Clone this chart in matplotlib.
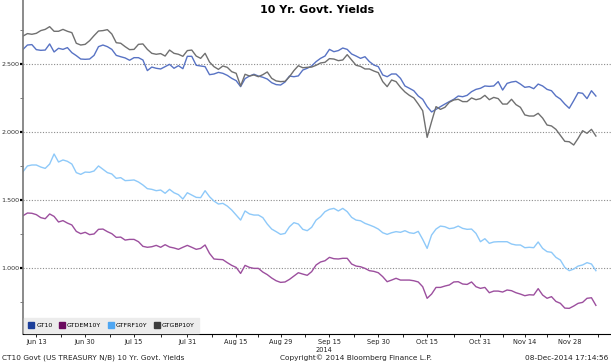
import matplotlib
matplotlib.use("Agg")
import matplotlib.pyplot as plt
from matplotlib.lines import Line2D
import numpy as np
import pandas as pd

# business days shown on the chart
dates = pd.bdate_range("2014-06-10", "2014-12-08")

gt10 = [2.605, 2.637, 2.640, 2.603, 2.598, 2.600, 2.645, 2.586, 2.613, 2.605,
        2.618, 2.581, 2.559, 2.534, 2.532, 2.534, 2.561, 2.625, 2.637, 2.625,
        2.605, 2.561, 2.551, 2.542, 2.525, 2.544, 2.544, 2.527, 2.449, 2.475,
        2.466, 2.461, 2.478, 2.495, 2.466, 2.485, 2.463, 2.554, 2.554, 2.488,
        2.483, 2.478, 2.419, 2.424, 2.436, 2.429, 2.414, 2.392, 2.375, 2.331,
        2.390, 2.409, 2.422, 2.409, 2.400, 2.387, 2.360, 2.346, 2.343, 2.365,
        2.409, 2.404, 2.410, 2.453, 2.466, 2.483, 2.515, 2.539, 2.556, 2.605,
        2.588, 2.596, 2.615, 2.605, 2.571, 2.556, 2.539, 2.551, 2.515, 2.490,
        2.478, 2.417, 2.404, 2.424, 2.424, 2.392, 2.336, 2.319, 2.301, 2.262,
        2.238, 2.184, 2.145, 2.164, 2.184, 2.203, 2.221, 2.238, 2.262, 2.257,
        2.267, 2.294, 2.311, 2.319, 2.336, 2.333, 2.336, 2.368, 2.306, 2.355,
        2.365, 2.370, 2.350, 2.326, 2.331, 2.316, 2.350, 2.336, 2.311, 2.301,
        2.262, 2.240, 2.203, 2.172, 2.228, 2.287, 2.282, 2.243, 2.301, 2.262]

gtdem10y = [1.382, 1.402, 1.400, 1.390, 1.368, 1.360, 1.395, 1.377, 1.336, 1.346,
            1.328, 1.314, 1.267, 1.250, 1.260, 1.243, 1.248, 1.282, 1.284, 1.265,
            1.250, 1.223, 1.225, 1.203, 1.208, 1.208, 1.191, 1.157, 1.150, 1.154,
            1.164, 1.150, 1.169, 1.152, 1.145, 1.135, 1.150, 1.164, 1.150, 1.135,
            1.142, 1.167, 1.105, 1.064, 1.061, 1.059, 1.037, 1.017, 1.002, 0.958,
            1.017, 1.002, 0.995, 0.995, 0.968, 0.949, 0.924, 0.904, 0.892, 0.895,
            0.914, 0.939, 0.963, 0.953, 0.944, 0.971, 1.020, 1.042, 1.051, 1.076,
            1.066, 1.064, 1.069, 1.069, 1.027, 1.012, 1.007, 0.995, 0.978, 0.973,
            0.963, 0.934, 0.897, 0.909, 0.922, 0.909, 0.909, 0.909, 0.904, 0.895,
            0.860, 0.775, 0.806, 0.855, 0.855, 0.865, 0.873, 0.895, 0.897, 0.880,
            0.877, 0.895, 0.860, 0.848, 0.855, 0.816, 0.828, 0.828, 0.821, 0.836,
            0.831, 0.816, 0.806, 0.794, 0.801, 0.799, 0.846, 0.799, 0.775, 0.787,
            0.752, 0.738, 0.703, 0.701, 0.718, 0.738, 0.745, 0.775, 0.779, 0.723]

gtfrf10y = [1.706, 1.748, 1.755, 1.755, 1.740, 1.730, 1.762, 1.836, 1.777, 1.792,
            1.782, 1.762, 1.699, 1.686, 1.703, 1.701, 1.711, 1.748, 1.723, 1.699,
            1.689, 1.657, 1.662, 1.640, 1.642, 1.645, 1.630, 1.608, 1.581, 1.576,
            1.566, 1.571, 1.547, 1.576, 1.551, 1.537, 1.505, 1.551, 1.534, 1.517,
            1.515, 1.566, 1.522, 1.490, 1.468, 1.473, 1.453, 1.424, 1.387, 1.350,
            1.417, 1.395, 1.387, 1.387, 1.368, 1.321, 1.284, 1.265, 1.245, 1.252,
            1.301, 1.331, 1.321, 1.282, 1.272, 1.297, 1.350, 1.375, 1.412, 1.429,
            1.436, 1.417, 1.436, 1.412, 1.370, 1.350, 1.345, 1.326, 1.314, 1.301,
            1.284, 1.257, 1.245, 1.257, 1.265, 1.260, 1.272, 1.257, 1.252, 1.267,
            1.208, 1.142, 1.240, 1.284, 1.306, 1.301, 1.287, 1.292, 1.306, 1.289,
            1.282, 1.284, 1.252, 1.191, 1.213, 1.179, 1.189, 1.191, 1.191, 1.191,
            1.174, 1.167, 1.167, 1.147, 1.150, 1.147, 1.189, 1.142, 1.118, 1.113,
            1.076, 1.056, 1.002, 0.978, 0.990, 1.012, 1.020, 1.037, 1.027, 0.978]

gtgbp10y = [2.703, 2.721, 2.716, 2.723, 2.743, 2.752, 2.772, 2.738, 2.738, 2.752,
            2.738, 2.728, 2.650, 2.637, 2.642, 2.669, 2.706, 2.740, 2.743, 2.750,
            2.718, 2.654, 2.650, 2.625, 2.603, 2.605, 2.642, 2.645, 2.605, 2.576,
            2.569, 2.574, 2.556, 2.600, 2.576, 2.569, 2.554, 2.596, 2.600, 2.556,
            2.539, 2.576, 2.512, 2.478, 2.458, 2.483, 2.473, 2.441, 2.429, 2.336,
            2.422, 2.409, 2.417, 2.404, 2.419, 2.439, 2.392, 2.373, 2.368, 2.370,
            2.404, 2.449, 2.485, 2.470, 2.473, 2.475, 2.488, 2.505, 2.510, 2.537,
            2.534, 2.522, 2.527, 2.566, 2.527, 2.488, 2.480, 2.461, 2.461, 2.446,
            2.434, 2.368, 2.331, 2.380, 2.368, 2.326, 2.292, 2.267, 2.248, 2.203,
            2.154, 1.958, 2.074, 2.184, 2.164, 2.179, 2.216, 2.233, 2.238, 2.221,
            2.221, 2.248, 2.235, 2.243, 2.267, 2.235, 2.252, 2.243, 2.203, 2.203,
            2.238, 2.199, 2.179, 2.123, 2.115, 2.115, 2.135, 2.100, 2.049, 2.042,
            2.017, 1.973, 1.929, 1.926, 1.902, 1.951, 2.007, 1.988, 2.017, 1.968]

names = ["GT10", "GTDEM10Y", "GTFRF10Y", "GTGBP10Y"]
line_colors = ["#5873c4", "#9c4f9e", "#8ec9f9", "#707070"]
legend_colors = ["#1c3f9a", "#6a0a5e", "#4ea6f2", "#3c3c3c"]

tick_dates = ["2014-06-13", "2014-06-30", "2014-07-15", "2014-07-31",
              "2014-08-15", "2014-08-29", "2014-09-15", "2014-09-30",
              "2014-10-15", "2014-10-31", "2014-11-14", "2014-11-28"]
tick_labels = ["Jun 13", "Jun 30", "Jul 15", "Jul 31", "Aug 15", "Aug 29",
               "Sep 15", "Sep 30", "Oct 15", "Oct 31", "Nov 14", "Nov 28"]

x = np.arange(len(dates))

fig = plt.figure(figsize=(6.11, 3.64), dpi=100, facecolor="white")
ax = fig.add_axes([23 / 611, 30 / 364, 588 / 611, 334 / 364])

for vals, c in zip([gt10, gtdem10y, gtfrf10y, gtgbp10y], line_colors):
    ax.plot(x, vals, color=c, lw=1.0)

ax.set_xlim(0, 132.4)
ax.set_ylim(0.5125, 2.968)

ax.set_yticks([1.0, 1.5, 2.0, 2.5])
ax.set_yticklabels(["1.000", "1.500", "2.000", "2.500"])
ax.set_yticks([0.75, 1.25, 1.75, 2.25, 2.75], minor=True)
ax.yaxis.grid(True, which="major", color="#8c8c8c", ls=(0, (1, 1.5)), lw=0.8)
ax.tick_params(axis="y", which="major", length=2.5, width=1.6, color="black",
               labelsize=4.6, labelcolor="#333333", pad=0.3)
ax.tick_params(axis="y", which="minor", length=2, width=0.6, color="#666666")

pos = [dates.get_loc(pd.Timestamp(d)) for d in tick_dates]
ax.set_xticks(pos)
ax.set_xticklabels(tick_labels)
mids = [(a + b) / 2 for a, b in zip(pos[:-1], pos[1:])] + [pos[-1] + 6.5]
ax.set_xticks(mids, minor=True)
ax.tick_params(axis="x", which="major", length=2.5, width=0.6, color="black",
               labelsize=4.8, labelcolor="#222222", pad=1)
ax.tick_params(axis="x", which="minor", length=2.5, width=0.6, color="black")

for s in ["top", "right"]:
    ax.spines[s].set_visible(False)
ax.spines["left"].set_color("#777777")
ax.spines["left"].set_linewidth(1.2)
ax.spines["bottom"].set_color("black")
ax.spines["bottom"].set_linewidth(0.8)

handles = [Line2D([], [], ls="none", marker="s", markersize=4.5, color=c)
           for c in legend_colors]
leg = ax.legend(handles, names, loc="lower left", ncol=4, fontsize=4.5,
                frameon=True, fancybox=False, borderaxespad=0.12,
                handlelength=0.8, handletextpad=0.4, columnspacing=1.1,
                borderpad=0.8)
leg.get_frame().set_facecolor("#ececec")
leg.get_frame().set_edgecolor("#ececec")
leg.get_frame().set_alpha(1)

fig.text(317 / 611, 1 - 10 / 364, "10 Yr. Govt. Yields", ha="center",
         va="center", fontsize=8, fontweight="bold")
fig.text(324 / 611, 1 - 349.5 / 364, "2014", ha="center", va="center",
         fontsize=4.8, color="#222222")
fig.text(2 / 611, 1 - 358 / 364, "CT10 Govt (US TREASURY N/B) 10 Yr. Govt. Yields",
         ha="left", va="center", fontsize=5.3, color="#222222")
fig.text(356 / 611, 1 - 358 / 364, "Copyright\u00a9 2014 Bloomberg Finance L.P.",
         ha="center", va="center", fontsize=5.3, color="#222222")
fig.text(608 / 611, 1 - 358 / 364, "08-Dec-2014 17:14:56",
         ha="right", va="center", fontsize=5.3, color="#222222")

fig.savefig("out.png", dpi=100)
